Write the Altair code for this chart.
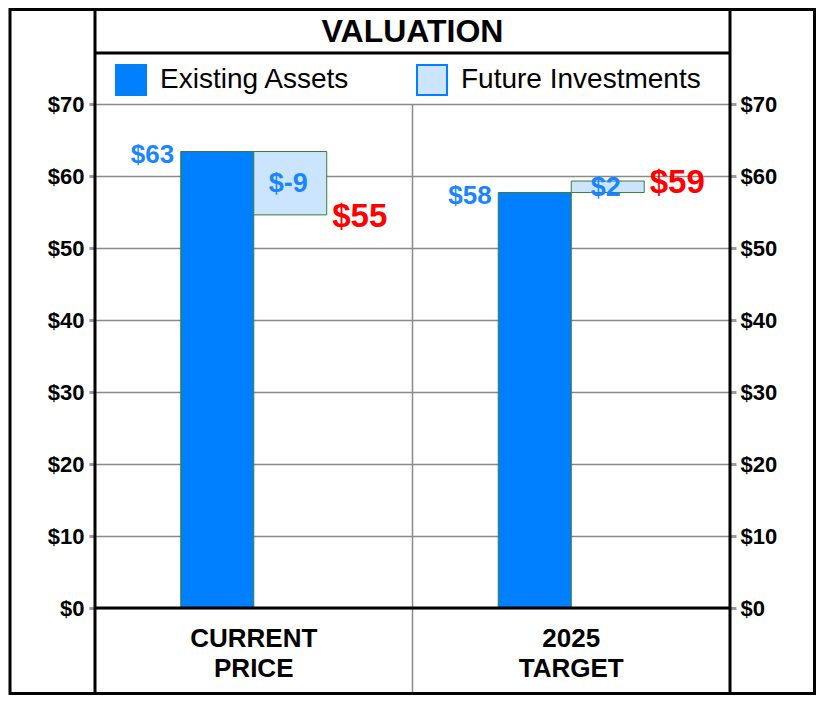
import altair as alt
import pandas as pd

# ---------------- data ----------------
TITLE = "VALUATION"
categories = ["CURRENT PRICE", "2025 TARGET"]
series = ["Existing Assets", "Future Investments"]
existing = [63.4, 57.7]
future = [-8.8, 1.6]
y_ticks = [0, 10, 20, 30, 40, 50, 60, 70]

# ---------------- styles ----------------
FONT = "Liberation Sans"
BLUE = "#0080FF"
LIGHT = "#CCE5FF"
LABEL_BLUE = "#1a85ff"
RED = "#FF0000"
GRID = "#8a8a8a"
EDGE = "#3d7a35"
W, H = 635, 504

bar_rows, ex_rows, fu_rows = [], [], []
for c, e, f in zip(categories, existing, future):
    total = e + f
    bar_rows.append(dict(category=c, series=series[0], start=0, end=e))
    bar_rows.append(dict(category=c, series=series[1], start=e, end=total))
    ex_rows.append(dict(category=c, series=series[0], value=e, label=f"${round(e)}"))
    fu_rows.append(dict(category=c, series=series[1], mid=(e + total) / 2,
                        label=f"${round(f)}", total=total, total_label=f"${round(total)}"))
bar_df = pd.DataFrame(bar_rows)
ex_df = pd.DataFrame(ex_rows)
fu_df = pd.DataFrame(fu_rows)
one = pd.DataFrame({"t": [TITLE], "zero": [0]})

x_enc = alt.X(
    "category:N", sort=categories,
    scale=alt.Scale(paddingInner=0.5402, paddingOuter=0.2701),
    axis=alt.Axis(title=None, orient="bottom", ticks=False, domain=False, labelAngle=0,
                  labelFont=FONT, labelFontSize=26, labelFontWeight="bold", labelColor="black",
                  labelPadding=17, labelLineHeight=30, labelBaseline="top",
                  labelExpr="split(datum.label, ' ')", grid=False),
)
xo_enc = alt.XOffset("series:N", sort=series,
                     scale=alt.Scale(paddingInner=0, paddingOuter=0))
y_scale = alt.Scale(domain=[0, 70], nice=False, zero=True)

left_axis = alt.Axis(title=None, orient="left", values=y_ticks, labelExpr="'$' + datum.label",
                     labelFont=FONT, labelFontSize=22, labelFontWeight="bold", labelColor="black",
                     labelPadding=5, tickSize=6, tickWidth=3, tickColor="#9a9a9a",
                     domain=False, grid=True, gridColor=GRID, gridWidth=1.5)
right_axis = alt.Axis(title=None, orient="right", values=y_ticks, labelExpr="'$' + datum.label",
                      labelFont=FONT, labelFontSize=22, labelFontWeight="bold", labelColor="black",
                      labelPadding=4, tickSize=6, tickWidth=3, tickColor="#9a9a9a",
                      domain=False, grid=False)

bars = alt.Chart(bar_df).mark_bar(stroke=EDGE, strokeWidth=1).encode(
    x=x_enc, xOffset=xo_enc,
    y=alt.Y("start:Q", scale=y_scale, axis=left_axis),
    y2="end:Q",
    color=alt.Color("series:N", sort=series,
                    scale=alt.Scale(domain=series, range=[BLUE, LIGHT]),
                    legend=alt.Legend(orient="none", legendX=20, legendY=-40,
                                      direction="horizontal", columns=2, columnPadding=63,
                                      title=None, symbolType="square", symbolSize=900,
                                      symbolStrokeColor=BLUE, symbolStrokeWidth=2,
                                      labelFont=FONT, labelFontSize=28, labelColor="black",
                                      labelOffset=13, labelLimit=500, padding=0)),
)

zero_line = alt.Chart(one).mark_rule(color="black", strokeWidth=3).encode(
    y=alt.Y("zero:Q", scale=y_scale, axis=right_axis),
)

ex_text = alt.Chart(ex_df).mark_text(
    align="right", baseline="middle", dx=-43, dy=3, font=FONT, fontSize=26,
    fontWeight="bold", color=LABEL_BLUE).encode(
    x=x_enc, xOffset=xo_enc, y=alt.Y("value:Q", scale=y_scale, axis=None), text="label:N")

fu_text = alt.Chart(fu_df).mark_text(
    align="center", baseline="middle", dx=-2, dy=1, font=FONT, fontSize=27,
    fontWeight="bold", color=LABEL_BLUE).encode(
    x=x_enc, xOffset=xo_enc, y=alt.Y("mid:Q", scale=y_scale, axis=None), text="label:N")

tot_text = alt.Chart(fu_df).mark_text(
    align="left", baseline="middle", dx=42, dy=2, font=FONT, fontSize=33,
    fontWeight="bold", color=RED).encode(
    x=x_enc, xOffset=xo_enc, y=alt.Y("total:Q", scale=y_scale, axis=None), text="total_label:N")

# frame decorations
TOP, BOTTOM, LEFT, RIGHT = -94.5, 589.5, -85, 719.5
center_v = alt.Chart(one).mark_rule(color=GRID, strokeWidth=1.5).encode(
    x=alt.value(W / 2), y=alt.value(0), y2=alt.value(BOTTOM))
outer = alt.Chart(one).mark_rect(fillOpacity=0, stroke="black", strokeWidth=3).encode(
    x=alt.value(LEFT), x2=alt.value(RIGHT), y=alt.value(TOP), y2=alt.value(BOTTOM))
left_v = alt.Chart(one).mark_rule(color="black", strokeWidth=3).encode(
    x=alt.value(0), y=alt.value(TOP), y2=alt.value(BOTTOM))
right_v = alt.Chart(one).mark_rule(color="black", strokeWidth=3).encode(
    x=alt.value(W), y=alt.value(TOP), y2=alt.value(BOTTOM))
title_sep = alt.Chart(one).mark_rule(color="black", strokeWidth=3).encode(
    x=alt.value(0), x2=alt.value(W), y=alt.value(-51))
title = alt.Chart(one).mark_text(
    align="center", baseline="alphabetic", font=FONT, fontSize=32, fontWeight="bold",
    color="black").encode(x=alt.value(W / 2), y=alt.value(-62), text="t:N")

chart = alt.layer(
    center_v, bars, zero_line, ex_text, fu_text, tot_text, outer, left_v, right_v, title_sep, title
).resolve_axis(y="independent").properties(
    width=W, height=H,
    autosize=alt.AutoSizeParams(type="none"),
    padding={"left": 87, "top": 96, "right": 86, "bottom": 88},
    background="white",
).configure_view(stroke="transparent")

chart.save("out.html", embed_options={"renderer": "svg", "actions": False})
